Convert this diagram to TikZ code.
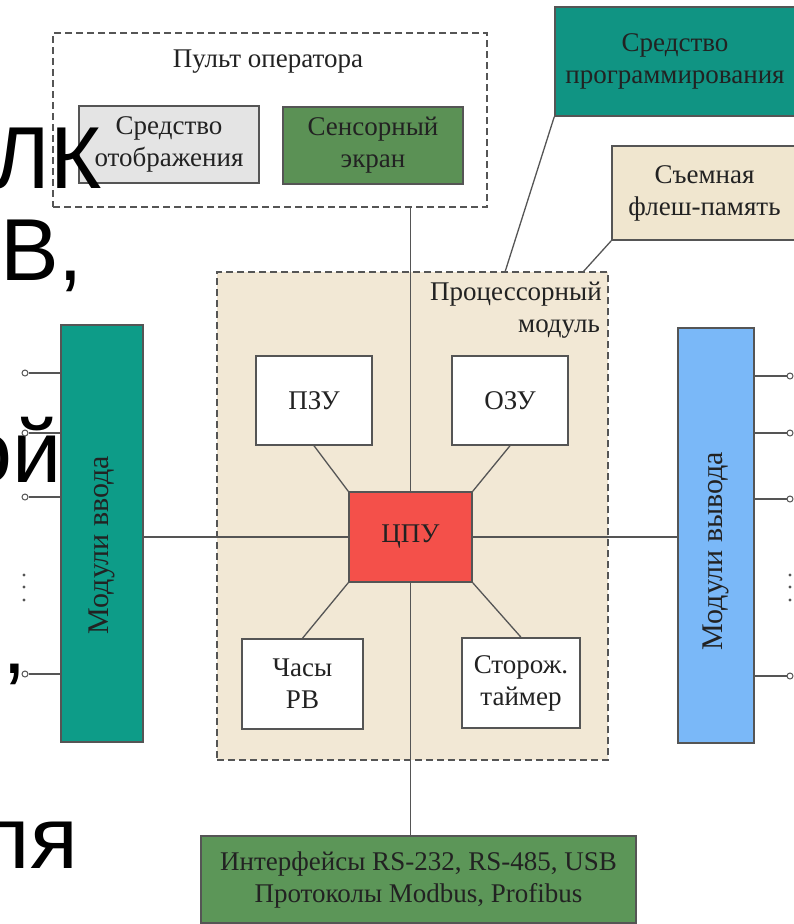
\documentclass[tikz,border=0pt]{standalone}
\usepackage{fontspec}
\setmainfont{Liberation Serif}
\newfontfamily\bigsans{Liberation Sans}
\usetikzlibrary{calc}
\definecolor{edgeC}{HTML}{555555}
\definecolor{dispC}{HTML}{E4E4E4}
\definecolor{sensC}{HTML}{5B9155}
\definecolor{progC}{HTML}{109483}
\definecolor{flashC}{HTML}{F0E6CF}
\definecolor{procC}{HTML}{F2E8D5}
\definecolor{cpuC}{HTML}{F4504A}
\definecolor{inC}{HTML}{0D9C88}
\definecolor{outC}{HTML}{7AB8F8}
\definecolor{ifaceC}{HTML}{5C9658}
\definecolor{txtC}{HTML}{222222}
\begin{document}
\begin{tikzpicture}[x=1pt,y=-1pt,
  lbl/.style={text=txtC, font=\fontsize{27}{32}\selectfont, inner sep=0pt},
  blk/.style={draw=edgeC, line width=1.5pt, inner sep=0pt, align=center, text=txtC,
    font=\fontsize{27}{32}\selectfont},
  grp/.style={draw=edgeC, line width=1.3pt, dash pattern=on 7pt off 4pt, inner sep=0pt},
  wire/.style={draw=edgeC, line width=1.3pt},
  pin/.style={circle, draw=edgeC, line width=1pt, fill=white, minimum size=6pt, inner sep=0pt},
  big/.style={font=\bigsans\fontsize{88}{90}\selectfont, text=black, inner sep=0pt}]
\useasboundingbox (0,0) rectangle (793,924);
\fill[white] (0,0) rectangle (793,924);

% operator panel
\node[grp, minimum width=434pt, minimum height=174pt] (pult) at (270,120) {};
\node[lbl] (pultlbl) at (268,62) {Пульт оператора};
\node[blk, fill=dispC, minimum width=180pt, minimum height=77pt] (disp) at (169,144.5) {Средство\\отображения};
\node[blk, fill=sensC, minimum width=180pt, minimum height=77pt] (sens) at (373,145.5) {Сенсорный\\экран};

% programming tool and flash
\node[blk, fill=progC, minimum width=240pt, minimum height=109pt] (prog) at (675,61.5) {Средство\\программирования};
\node[blk, fill=flashC, minimum width=185pt, minimum height=94pt] (flash) at (704.5,193) {Съемная\\флеш-память};

% processor module
\node[grp, fill=procC, minimum width=391pt, minimum height=488pt] (proc) at (412.5,516) {};
\node[lbl, anchor=east] (proclbl1) at (602,294) {Процессорный};
\node[lbl, anchor=east] (proclbl2) at (600,329) {модуль};

\node[blk, fill=white, minimum width=116pt, minimum height=89pt] (pzu) at (314,400.5) {ПЗУ};
\node[blk, fill=white, minimum width=116pt, minimum height=89pt] (ozu) at (510,400.5) {ОЗУ};
\node[blk, fill=cpuC, minimum width=123pt, minimum height=90pt] (cpu) at (410.5,537) {ЦПУ};
\node[blk, fill=white, minimum width=121pt, minimum height=90pt] (clock) at (302.5,684) {Часы\\РВ};
\node[blk, fill=white, minimum width=118pt, minimum height=90pt] (wd) at (521,683) {Сторож.\\таймер};

% I/O modules
\node[blk, fill=inC, minimum width=82pt, minimum height=417pt] (inmod) at (102,533.5) {};
\node[lbl, font=\fontsize{30}{32}\selectfont, rotate=90] (inlbl) at (102,545) {Модули ввода};
\node[blk, fill=outC, minimum width=76pt, minimum height=415pt] (outmod) at (716,535.5) {};
\node[lbl, font=\fontsize{30}{32}\selectfont, rotate=90] (outlbl) at (716,551) {Модули вывода};

% interfaces
\node[blk, fill=ifaceC, minimum width=435pt, minimum height=87pt] (iface) at (418.5,879.5) {Интерфейсы RS-232, RS-485, USB\\Протоколы Modbus, Profibus};

% connectors
\draw[wire] (cpu.north |- pult.south) -- (cpu.north);
\draw[wire] (cpu.south) -- (cpu.south |- iface.north);
\draw[wire] (inmod.east |- cpu.west) -- (cpu.west);
\draw[wire] (cpu.east) -- (outmod.west |- cpu.east);
\draw[wire] (prog.south west) -- (505,272);
\draw[wire] (flash.south west) -- (583,272);
\draw[wire] (pzu.south) -- (cpu.north west);
\draw[wire] (ozu.south) -- (cpu.north east);
\draw[wire] (cpu.south west) -- (clock.north);
\draw[wire] (cpu.south east) -- (wd.north);

% overlapping slide text fragments
\node[big, anchor=base east] (t1) at (102,188) {ЛК};
\node[big, anchor=base west] (t2) at (0,280) {В,};
\node[big, anchor=base east] (t3) at (62,482) {ой};
\node[big, anchor=base east] (t4) at (27,673) {,};
\node[big, anchor=base east] (t5) at (78,868) {ля};

% input pins
\foreach \i/\yy in {1/373,2/433,3/497,4/674}{
  \node[pin] (ip\i) at (25,\yy) {};
  \draw[wire, line width=1.2pt] (ip\i) -- (inmod.west |- ip\i);
}
\foreach \i/\yy in {1/376,2/433,3/499,4/676}{
  \node[pin] (op\i) at (790,\yy) {};
  \draw[wire, line width=1.2pt] (outmod.east |- op\i) -- (op\i);
}
\foreach \yy in {575,587,600}{
  \fill[edgeC] (24,\yy) circle (1.6pt);
  \fill[edgeC] (790,\yy) circle (1.6pt);
}
\end{tikzpicture}
\end{document}
